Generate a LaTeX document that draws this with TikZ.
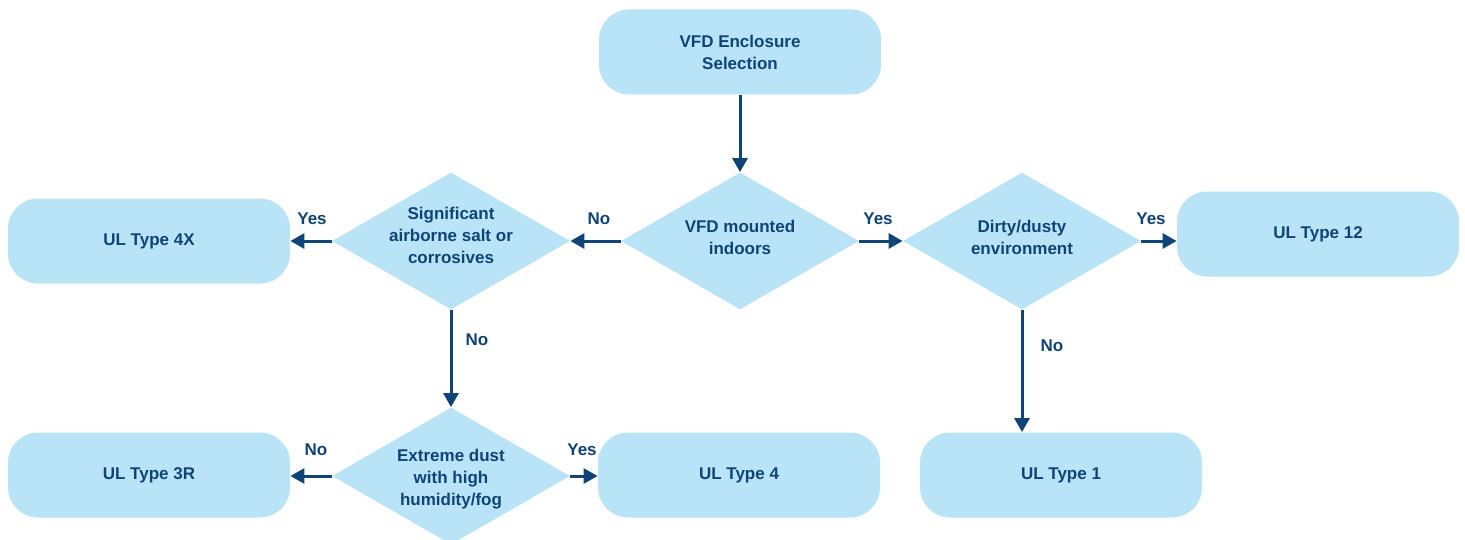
\documentclass[tikz,border=0pt]{standalone}
\usepackage{fontspec}
\setmainfont{Liberation Sans}
\usetikzlibrary{shapes.geometric,arrows.meta}
\definecolor{boxfill}{RGB}{185,228,248}
\definecolor{ink}{RGB}{14,68,120}
\tikzset{
  x=0.5pt,y=-0.5pt,
  every node/.style={font=\bfseries\fontsize{8.5}{11}\selectfont,text=ink},
  termbox/.style={rectangle,rounded corners=15pt,fill=boxfill,minimum width=141pt,minimum height=42.5pt,inner sep=0pt,align=center},
  decision/.style={diamond,fill=boxfill,minimum width=119pt,minimum height=68.5pt,inner sep=0pt},
  dtext/.style={align=center,inner sep=0pt},
  flow/.style={draw=ink,line width=1.5pt,-{Triangle[length=7pt,width=7.5pt]}},
  lbl/.style={inner sep=0pt}
}
\begin{document}
\begin{tikzpicture}
\useasboundingbox (0,0) rectangle (1465,540);
% boxes
\node[termbox] (start) at (740,52) {VFD Enclosure\\Selection};
\node[termbox] (t4x) at (149,241) {UL Type 4X};
\node[termbox] (t12) at (1318,234) {UL Type 12};
\node[termbox] (t3r) at (149,475) {UL Type 3R};
\node[termbox] (t4) at (739,475) {UL Type 4};
\node[termbox] (t1) at (1061,475) {UL Type 1};
% decisions
\node[decision] (dind) at (740,241) {};
\node[dtext] (dindt) at (740,237) {VFD mounted\\indoors};
\node[decision] (dsalt) at (451,241) {};
\node[dtext] (dsaltt) at (451,235) {Significant\\airborne salt or\\corrosives};
\node[decision] (ddirt) at (1022,241) {};
\node[dtext] (ddirtt) at (1022,237) {Dirty/dusty\\environment};
\node[decision] (dfog) at (451,476) {};
\node[dtext] (dfogt) at (451,479) {Extreme dust\\with high\\humidity/fog};
% connectors
\draw[flow] (start.south) -- (dind.north);
\draw[flow] (dind.west) -- (dsalt.east);
\draw[flow] (dind.east) -- (ddirt.west);
\draw[flow] (dsalt.west) -- (t4x.east |- dsalt.west);
\draw[flow] (dsalt.south) -- (dfog.north);
\draw[flow] (ddirt.east) -- (t12.west |- ddirt.east);
\draw[flow] (ddirt.south) -- (ddirt.south |- t1.north);
\draw[flow] (dfog.west) -- (t3r.east |- dfog.west);
\draw[flow] (dfog.east) -- (t4.west |- dfog.east);
% labels
\node[lbl] (l1) at (599,219) {No};
\node[lbl] (l2) at (878,219) {Yes};
\node[lbl] (l3) at (312,219) {Yes};
\node[lbl] (l4) at (477,340) {No};
\node[lbl] (l5) at (1151,219) {Yes};
\node[lbl] (l6) at (1052,346) {No};
\node[lbl] (l7) at (316,450) {No};
\node[lbl] (l8) at (582,450) {Yes};
\end{tikzpicture}
\end{document}
